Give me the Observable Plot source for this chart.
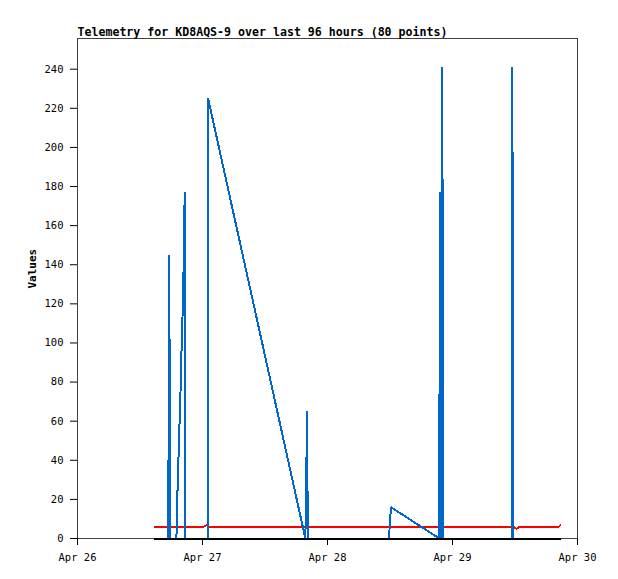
<!DOCTYPE html>
<html>
<head>
<meta charset="utf-8">
<script src="https://cdn.jsdelivr.net/npm/d3@7"></script>
<script src="https://cdn.jsdelivr.net/npm/@observablehq/plot@0.6"></script>
<style>
  html, body { margin: 0; padding: 0; background: #fff; }
</style>
</head>
<body>
<div id="chart"></div>
<script>
// Title and labels
const titleText = "Telemetry for KD8AQS-9 over last 96 hours (80 points)";
const yLabel = "Values";

// Time of each packet, hours after Apr 26 00:00 UTC
const hours = [
  14.6, 15.1, 15.6, 16.1, 16.6, 17.0, 17.45, 17.55, 17.75, 17.85,
  18.6, 19.0, 19.05, 19.3, 19.55, 19.8, 20.0, 20.25, 20.4, 20.5,
  20.6, 20.7, 21.6, 22.5, 23.4, 24.2, 25.0, 25.08, 43.75, 43.85,
  44.0, 44.1, 44.2, 45.5, 47.0, 48.5, 50.0, 51.5, 53.0, 54.5,
  56.0, 57.5, 59.0, 59.85, 59.95, 60.2, 69.47, 69.56, 69.66, 69.75,
  69.85, 69.95, 70.08, 70.2, 71.5, 72.8, 74.1, 75.4, 76.7, 78.0,
  79.3, 80.6, 81.9, 83.37, 83.45, 83.65, 83.71, 84.3, 84.9, 85.7,
  86.5, 87.3, 88.1, 88.9, 89.7, 90.5, 91.3, 92.0, 92.4, 92.8
];

// Blue channel
const blueValues = [
  0, 0, 0, 0, 0, 0, 0, 145, 72, 0,
  0, 0, 11, 33, 55, 77, 99, 121, 143, 165,
  177, 0, 0, 0, 0, 0, 0, 225, 0, 16,
  48, 65, 0, 0, 0, 0, 0, 0, 0, 0,
  0, 0, 0, 0, 8, 16, 0, 177, 0, 177,
  0, 241, 184, 0, 0, 0, 0, 0, 0, 0,
  0, 0, 0, 0, 241, 121, 0, 0, 0, 0,
  0, 0, 0, 0, 0, 0, 0, 0, 0, 0
];

// Red channel
const redValues = [
  6, 6, 6, 6, 6, 6, 6, 6, 6, 6,
  6, 6, 6, 6, 6, 6, 6, 6, 6, 6,
  6, 6, 6, 6, 6, 6, 7, 6, 6, 6,
  6, 6, 6, 6, 6, 6, 6, 6, 6, 6,
  6, 6, 6, 6, 6, 6, 6, 6, 6, 6,
  6, 6, 6, 6, 6, 6, 6, 6, 6, 6,
  6, 6, 6, 6, 6, 6, 6, 5, 6, 6,
  6, 6, 6, 6, 6, 6, 6, 6, 6, 7
];

// Black channel
const blackValues = [
  0, 0, 0, 0, 0, 0, 0, 0, 0, 0,
  0, 0, 0, 0, 0, 0, 0, 0, 0, 0,
  0, 0, 0, 0, 0, 0, 0, 0, 0, 0,
  0, 0, 0, 0, 0, 0, 0, 0, 0, 0,
  0, 0, 0, 0, 0, 0, 0, 0, 0, 0,
  0, 0, 0, 0, 0, 0, 0, 0, 0, 0,
  0, 0, 0, 0, 0, 0, 0, 0, 0, 0,
  0, 0, 0, 0, 0, 0, 0, 0, 0, 0
];

// Axis ticks
const xTickDates = ["2024-04-26", "2024-04-27", "2024-04-28", "2024-04-29", "2024-04-30"];
const xTickLabels = ["Apr 26", "Apr 27", "Apr 28", "Apr 29", "Apr 30"];
const yTicks = [0, 20, 40, 60, 80, 100, 120, 140, 160, 180, 200, 220, 240];
const xDomain = ["2024-04-26", "2024-04-30"];
const yDomain = [0, 255.7];

const base = Date.parse("2024-04-26T00:00:00Z");
const data = hours.map((h, i) => ({
  t: new Date(base + h * 3600e3),
  blue: blueValues[i],
  red: redValues[i],
  black: blackValues[i]
}));
const xTicks = xTickDates.map(d => new Date(d + "T00:00:00Z"));
const labelFor = new Map(xTicks.map((d, i) => [+d, xTickLabels[i]]));

const lineStyle = { strokeWidth: 2, strokeLinejoin: "bevel", strokeLinecap: "butt", shapeRendering: "crispEdges" };

const chart = Plot.plot({
  width: 618,
  height: 579,
  marginLeft: 77,
  marginRight: 41,
  marginTop: 38,
  marginBottom: 41,
  style: { fontFamily: "'DejaVu Sans Mono', monospace", fontSize: "10.5px", color: "#000", background: "#fff" },
  x: { type: "utc", domain: xDomain.map(d => new Date(d + "T00:00:00Z")) },
  y: { domain: yDomain },
  marks: [
    Plot.frame({ stroke: "#404040" }),
    Plot.axisY({ ticks: yTicks, tickSize: 7, tickPadding: 7, label: null }),
    Plot.axisX({ ticks: xTicks, tickSize: 7, tickPadding: 8.5, label: null, tickFormat: d => labelFor.get(+d) }),
    Plot.line(data, { x: "t", y: "red", stroke: "#ff0000", ...lineStyle }),
    Plot.line(data, { x: "t", y: "blue", stroke: "#0066cc", ...lineStyle }),
    Plot.line(data, { x: "t", y: "black", stroke: "#000000", ...lineStyle }),
    Plot.text([titleText], { frameAnchor: "top-left", textAnchor: "start", lineAnchor: "bottom", dy: -3, fontWeight: "bold", fontSize: 11.6 }),
    Plot.text([yLabel], { frameAnchor: "left", rotate: -90, dx: -45, fontWeight: "bold", fontSize: 11 })
  ]
});
document.getElementById("chart").appendChild(chart);
</script>
</body>
</html>
